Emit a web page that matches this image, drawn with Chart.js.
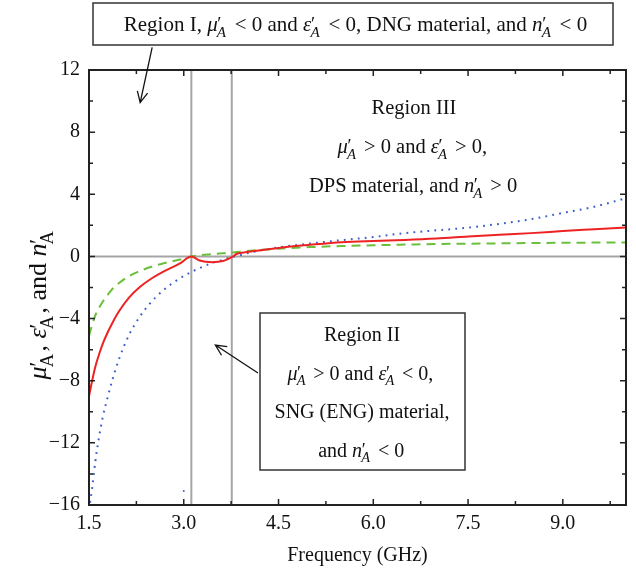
<!DOCTYPE html>
<html>
<head>
<meta charset="utf-8">
<script src="https://cdn.jsdelivr.net/npm/chart.js@4.4.0/dist/chart.umd.min.js"></script>
<style>
html, body { margin: 0; padding: 0; background: #fff; }
#wrap { width: 636px; height: 576px; }
</style>
</head>
<body>
<div id="wrap"><canvas id="chart" width="636" height="576"></canvas></div>
<script>
// Frequency samples (GHz) shared by the three curves
const freq = [1.5, 1.55, 1.6, 1.66, 1.72, 1.8, 1.87, 1.98, 2.14, 2.3, 2.46, 2.67, 2.94, 3.12,
  3.25, 3.45, 3.62, 3.72, 3.76, 3.84, 4.0, 4.5, 5.0, 5.5, 6.0, 6.5, 7.0, 7.5, 8.0, 8.5, 9.0, 9.5, 10.0];

// n'_A (red, solid)
const nA = [-9.0, -8.0, -7.1, -6.3, -5.6, -4.85, -4.28, -3.5, -2.62, -1.98, -1.5, -1.0, -0.45, 0.0,
  -0.26, -0.37, -0.3, -0.13, -0.05, 0.17, 0.28, 0.55, 0.75, 0.92, 1.0, 1.06, 1.15, 1.28, 1.4, 1.5, 1.63, 1.75, 1.87];

// mu'_A (green, dashed)
const muA = [-5.1, -4.4, -3.8, -3.3, -2.9, -2.45, -2.1, -1.7, -1.25, -0.95, -0.7, -0.45, -0.2, 0.0,
  0.07, 0.14, 0.2, 0.23, 0.25, 0.28, 0.35, 0.5, 0.6, 0.67, 0.72, 0.76, 0.8, 0.82, 0.84, 0.86, 0.88, 0.89, 0.9];

// eps'_A (blue, dotted)
const epsA = [-16.3, -14.9, -13.2, -11.6, -10.3, -9.0, -7.95, -6.55, -5.0, -3.9, -3.05, -2.2, -1.4, -1.0,
  -0.75, -0.42, -0.22, -0.08, -0.03, 0.02, 0.2, 0.58, 0.83, 1.05, 1.25, 1.5, 1.68, 1.85, 2.1, 2.4, 2.8, 3.2, 3.75];

// stray blue mark near the bottom of the plot
const strayPoint = [{ x: 3.0, y: -15.1 }];

// region boundaries (GHz) and zero line
const boundaries = [3.12, 3.76];
const zeroLine = 0;

const xTicks = [1.5, 3.0, 4.5, 6.0, 7.5, 9.0];
const xMinor = [2.25, 3.75, 5.25, 6.75, 8.25, 9.75];
const yTicks = [-16, -12, -8, -4, 0, 4, 8, 12];
const yMinor = [-14, -10, -6, -2, 2, 6, 10];
const xRange = [1.5, 10.0];
const yRange = [-16, 12];

const SERIF = '"Liberation Serif", "DejaVu Serif", serif';

const toXY = vals => freq.map((f, i) => ({ x: f, y: vals[i] }));

// text pieces: plain strings, or {s} for a symbol with prime and subscript A
const regionI = ['Region I, ', { s: 'μ' }, ' < 0 and ', { s: 'ε' }, ' < 0, DNG material, and ', { s: 'n' }, ' < 0'];
const regionII = [
  ['Region II'],
  [{ s: 'μ' }, ' > 0 and ', { s: 'ε' }, ' < 0,'],
  ['SNG (ENG) material,'],
  ['and ', { s: 'n' }, ' < 0']
];
const regionIII = [
  ['Region III'],
  [{ s: 'μ' }, ' > 0 and ', { s: 'ε' }, ' > 0,'],
  ['DPS material, and ', { s: 'n' }, ' > 0']
];
const yTitle = [{ s: 'μ' }, ', ', { s: 'ε' }, ', and ', { s: 'n' }];

function richWidth(ctx, parts, size, gap) {
  let w = 0;
  for (const p of parts) {
    if (typeof p === 'string') {
      ctx.font = `${size}px ${SERIF}`;
      w += ctx.measureText(p).width;
    } else {
      ctx.font = `italic ${size}px ${SERIF}`;
      w += ctx.measureText(p.s).width;
      ctx.font = `${size * 0.72}px ${SERIF}`;
      w += ctx.measureText('A').width + size * gap;
    }
  }
  return w;
}

function drawRich(ctx, parts, cx, y, size, subItalic, gap = 0.06) {
  const w = richWidth(ctx, parts, size, gap);
  let x = cx - w / 2;
  ctx.textAlign = 'left';
  ctx.textBaseline = 'alphabetic';
  ctx.fillStyle = '#111';
  for (const p of parts) {
    if (typeof p === 'string') {
      ctx.font = `${size}px ${SERIF}`;
      ctx.fillText(p, x, y);
      x += ctx.measureText(p).width;
    } else {
      ctx.font = `italic ${size}px ${SERIF}`;
      ctx.fillText(p.s, x, y);
      x += ctx.measureText(p.s).width;
      ctx.font = `${size * 0.9}px ${SERIF}`;
      ctx.fillText('′', x - size * 0.02, y - size * 0.05);
      ctx.font = `${subItalic ? 'italic ' : ''}${size * 0.72}px ${SERIF}`;
      ctx.fillText('A', x - size * 0.04, y + size * 0.28);
      x += ctx.measureText('A').width + size * gap;
    }
  }
}

function arrow(ctx, x1, y1, x2, y2) {
  const a = Math.atan2(y2 - y1, x2 - x1);
  const len = 12, sp = 0.45;
  ctx.beginPath();
  ctx.moveTo(x1, y1);
  ctx.lineTo(x2, y2);
  ctx.moveTo(x2 - len * Math.cos(a - sp), y2 - len * Math.sin(a - sp));
  ctx.lineTo(x2, y2);
  ctx.lineTo(x2 - len * Math.cos(a + sp), y2 - len * Math.sin(a + sp));
  ctx.stroke();
}

const decor = {
  id: 'decor',
  afterDraw(chart) {
    const ctx = chart.ctx;
    const { left, right, top, bottom } = chart.chartArea;
    const xs = chart.scales.x, ys = chart.scales.y;
    ctx.save();

    // frame
    ctx.strokeStyle = '#222';
    ctx.lineWidth = 2;
    ctx.strokeRect(left, top, right - left, bottom - top);

    // inward ticks on all four sides
    ctx.lineWidth = 1.5;
    ctx.beginPath();
    const tickX = (vals, len) => vals.forEach(v => {
      const px = xs.getPixelForValue(v);
      ctx.moveTo(px, bottom); ctx.lineTo(px, bottom - len);
      ctx.moveTo(px, top); ctx.lineTo(px, top + len);
    });
    const tickY = (vals, len) => vals.forEach(v => {
      const py = ys.getPixelForValue(v);
      ctx.moveTo(left, py); ctx.lineTo(left + len, py);
      ctx.moveTo(right, py); ctx.lineTo(right - len, py);
    });
    tickX(xTicks, 6); tickX(xMinor, 4);
    tickY(yTicks, 6); tickY(yMinor, 4);
    ctx.stroke();

    // Region I box
    ctx.strokeStyle = '#333';
    ctx.lineWidth = 1.5;
    ctx.strokeRect(93, 3, 520, 42);
    drawRich(ctx, regionI, 358, 31, 21, true, 0.12);

    // Region I arrow
    ctx.strokeStyle = '#111';
    ctx.lineWidth = 1.3;
    arrow(ctx, xs.getPixelForValue(2.5), ys.getPixelForValue(13.45), xs.getPixelForValue(2.31), ys.getPixelForValue(9.9));

    // Region III text
    regionIII.forEach((ln, i) => drawRich(ctx, ln, 414, 114 + i * 39, 20.5, true, 0.1));

    // Region II box
    ctx.fillStyle = '#fff';
    ctx.fillRect(260, 313, 205, 157);
    ctx.strokeStyle = '#333';
    ctx.lineWidth = 1.5;
    ctx.strokeRect(260, 313, 205, 157);
    regionII.forEach((ln, i) => drawRich(ctx, ln, 362, 341 + i * 38.5, 20, true, 0.1));

    // Region II arrow
    ctx.strokeStyle = '#111';
    ctx.lineWidth = 1.3;
    arrow(ctx, 258, 373, xs.getPixelForValue(3.5), ys.getPixelForValue(-5.7));

    // y axis title
    ctx.save();
    ctx.translate(46, 304);
    ctx.rotate(-Math.PI / 2);
    drawRich(ctx, yTitle, 0, 0, 26, false, 0.05);
    ctx.restore();

    // x axis title
    ctx.font = `20px ${SERIF}`;
    ctx.textAlign = 'center';
    ctx.fillStyle = '#111';
    ctx.fillText('Frequency (GHz)', (left + right) / 2, 561);

    ctx.restore();
  }
};

const grayLine = {
  showLine: true, pointRadius: 0, borderColor: '#a5a5a5', borderWidth: 2
};

new Chart(document.getElementById('chart'), {
  type: 'scatter',
  data: {
    datasets: [
      { label: "n'A", data: toXY(nA), showLine: true, pointRadius: 0, borderColor: '#ee2222', borderWidth: 2, cubicInterpolationMode: 'monotone' },
      { label: "mu'A", data: toXY(muA), showLine: true, pointRadius: 0, borderColor: '#6cbf3c', borderWidth: 2, borderDash: [9, 6], cubicInterpolationMode: 'monotone' },
      { label: "eps'A", data: toXY(epsA), showLine: true, pointRadius: 0, borderColor: '#3a5fc8', borderWidth: 2, borderDash: [1.8, 5.2], cubicInterpolationMode: 'monotone' },
      { label: 'stray', data: strayPoint, showLine: false, pointRadius: 1, backgroundColor: '#3a5fc8', borderWidth: 0 },
      { label: 'zero', data: xRange.map(x => ({ x, y: zeroLine })), ...grayLine },
      ...boundaries.map(b => ({ label: 'b' + b, data: yRange.map(y => ({ x: b, y })), ...grayLine }))
    ]
  },
  options: {
    responsive: false,
    animation: false,
    layout: { padding: { left: 0, right: 10, top: 70, bottom: 0 } },
    plugins: { legend: { display: false }, tooltip: { enabled: false } },
    scales: {
      x: {
        type: 'linear', min: xRange[0], max: xRange[1],
        grid: { display: false, drawTicks: false }, border: { display: false },
        afterBuildTicks: s => { s.ticks = xTicks.map(v => ({ value: v })); },
        afterFit: s => { s.height = 71; },
        ticks: { padding: 7, color: '#111', maxRotation: 0, font: { family: SERIF, size: 20 }, callback: v => v.toFixed(1) }
      },
      y: {
        type: 'linear', min: yRange[0], max: yRange[1],
        grid: { display: false, drawTicks: false }, border: { display: false },
        afterBuildTicks: s => { s.ticks = yTicks.map(v => ({ value: v })); },
        afterFit: s => { s.width = 89; },
        ticks: { padding: 9, color: '#111', font: { family: SERIF, size: 20 }, callback: v => String(v).replace('-', '−') }
      }
    }
  },
  plugins: [decor]
});
</script>
</body>
</html>
